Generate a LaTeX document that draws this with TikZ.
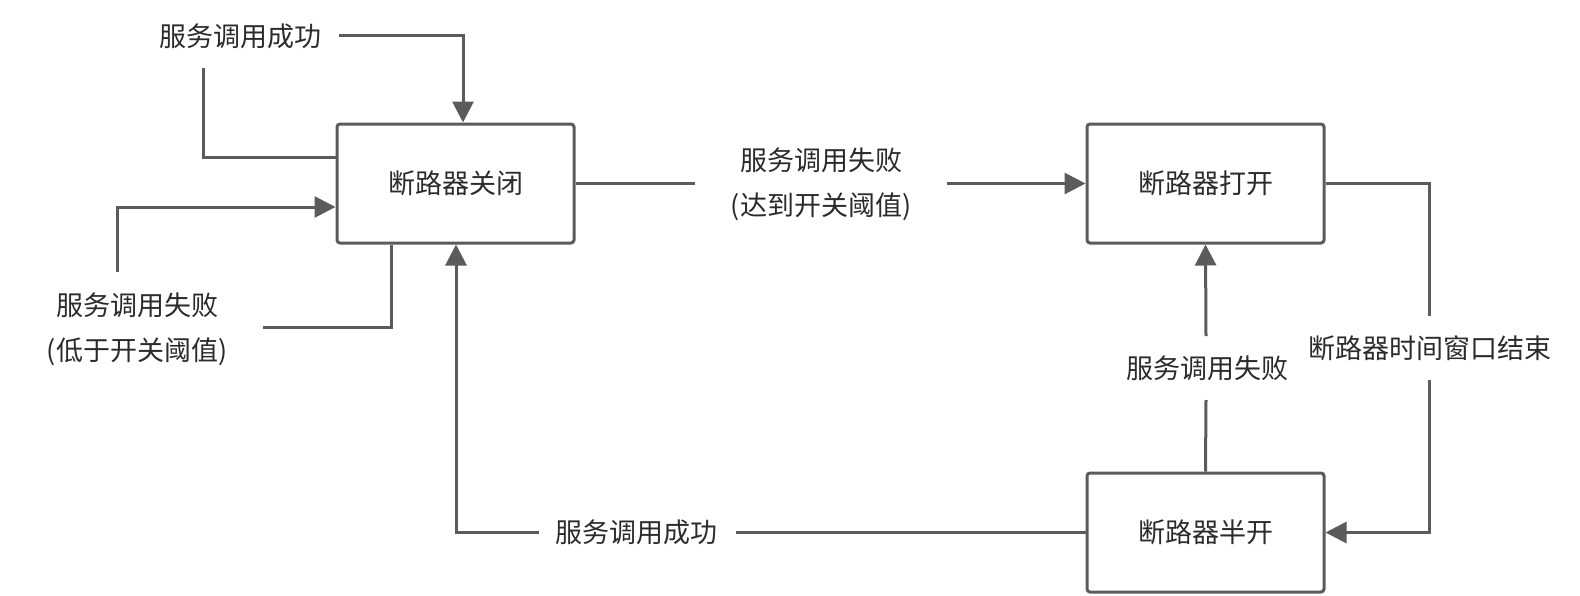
\documentclass[tikz,border=0pt]{standalone}
\usepackage{fontspec}
\setmainfont{Noto Sans CJK SC}
\usetikzlibrary{arrows.meta}
\definecolor{lc}{HTML}{5B5B5B}
\definecolor{tc}{HTML}{2B2B2B}
\begin{document}
\begin{tikzpicture}[x=0.5pt,y=-0.5pt,
  conn/.style={draw=lc,line width=1.5pt},
  arr/.style={conn,-{Triangle[length=10.5pt,width=10.5pt]}},
  statebox/.style={draw=lc,line width=1.5pt,rounded corners=1.5pt,minimum width=118.5pt,minimum height=59.5pt,inner sep=0pt,text=tc,font=\fontsize{13.5pt}{16pt}\selectfont},
  lbl/.style={inner sep=0pt,text=tc,font=\fontsize{13.5pt}{16pt}\selectfont}]
\useasboundingbox (0,0) rectangle (1580,595);
% states
\node[statebox] (A) at (455.5,183.5) {断路器关闭};
\node[statebox] (B) at (1205.5,183.5) {断路器打开};
\node[statebox] (C) at (1205.5,532.5) {断路器半开};
% labels
\node[lbl] (t1) at (240,36) {服务调用成功};
\node[lbl] (t2a) at (137,305) {服务调用失败};
\node[lbl] (t2b) at (137,352) {(低于开关阈值)};
\node[lbl] (t3a) at (821,160) {服务调用失败};
\node[lbl] (t3b) at (821,207) {(达到开关阈值)};
\node[lbl] (t4) at (1207,368) {服务调用失败};
\node[lbl] (t5) at (1430,348) {断路器时间窗口结束};
\node[lbl] (t6) at (636,532) {服务调用成功};
% free ends
\coordinate (s1) at (339,35);
\coordinate (e1) at (203,68);
\coordinate (s2) at (117,272);
\coordinate (s3) at (263,327);
\coordinate (e4) at (695,183.5);
\coordinate (s4) at (947,183.5);
\coordinate (e5) at (1429,316);
\coordinate (s5) at (1429,380);
\coordinate (e6) at (1206,400);
\coordinate (s6) at (1206,336);
\coordinate (e7) at (736,532.5);
\coordinate (s7) at (539,532.5);
% connectors
\draw[arr] (s1) -- (s1 -| 463,0) -- (A.north -| 463,0);
\draw[conn] (A.west |- 0,157) -- (e1 |- 0,157) -- (e1);
\draw[arr] (s2) -- (s2 |- 0,207) -- (A.west |- 0,207);
\draw[conn] (s3) -- (391,327) -- (A.south -| 391,0);
\draw[conn] (A.east) -- (e4);
\draw[arr] (s4) -- (B.west);
\draw[conn] (B.east) -- (e5 |- B.east) -- (e5);
\draw[arr] (s5) -- (s5 |- C.east) -- (C.east);
\draw[conn] (C.north) -- (e6);
\draw[arr] (s6) -- (B.south);
\draw[conn] (C.west) -- (e7);
\draw[arr] (s7) -- (456,532.5) -- (A.south -| 456,0);
\end{tikzpicture}
\end{document}
